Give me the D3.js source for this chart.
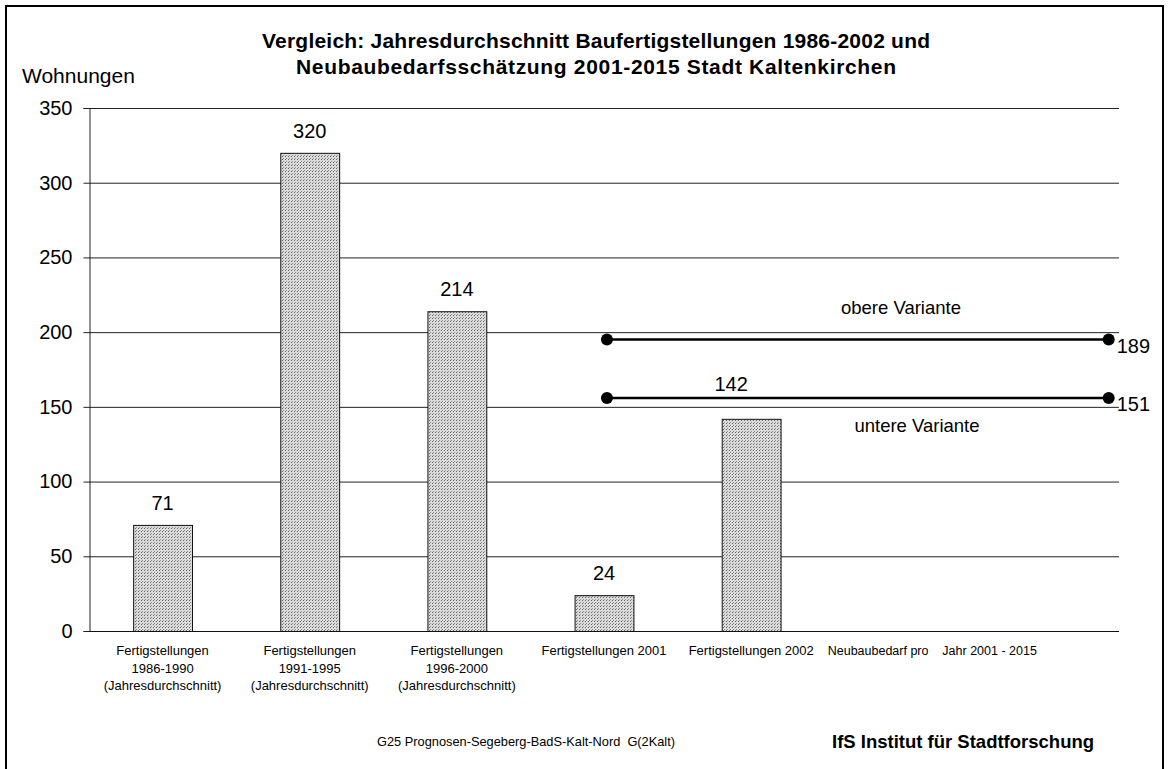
<!DOCTYPE html>
<html>
<head>
<meta charset="utf-8">
<script src="https://cdn.jsdelivr.net/npm/d3@7"></script>
<style>
  body { margin: 0; background: #fff; }
  svg { display: block; font-family: "Liberation Sans", Arial, sans-serif; }
</style>
</head>
<body>
<svg id="chart" width="1170" height="769"></svg>
<script>
// categories (7 slots: last two hold the Neubaubedarf label)
const categories = ["c1", "c2", "c3", "c4", "c5", "c6", "c7"];
const categoryLabels = [
  ["Fertigstellungen", "1986-1990", "(Jahresdurchschnitt)"],
  ["Fertigstellungen", "1991-1995", "(Jahresdurchschnitt)"],
  ["Fertigstellungen", "1996-2000", "(Jahresdurchschnitt)"],
  ["Fertigstellungen 2001"],
  ["Fertigstellungen 2002"]
];
const neubauLabel = "Neubaubedarf pro    Jahr 2001 - 2015";
const barValues = [71, 320, 214, 24, 142];

// Neubaubedarf variants: drawn level, printed value, caption
const varianteY = [195, 156];
const varianteValue = ["189", "151"];
const varianteName = ["obere Variante", "untere Variante"];
// x extent of the variant lines in category units (0..7)
const varianteX = [3.52, 6.93];

const yTicks = [0, 50, 100, 150, 200, 250, 300, 350];

const svg = d3.select("#chart");
const plotL = 89, plotR = 1119, plotT = 108, plotB = 631;

const x = d3.scaleBand().domain(categories).range([plotL, plotR])
  .paddingInner(0.6).paddingOuter(0.3);
const xLin = d3.scaleLinear().domain([0, 7]).range([plotL, plotR]);
const y = d3.scaleLinear().domain([0, 350]).range([plotB, plotT]);

// pattern for the bars
const defs = svg.append("defs");
const pat = defs.append("pattern").attr("id", "dots")
  .attr("width", 3).attr("height", 3).attr("patternUnits", "userSpaceOnUse");
pat.append("rect").attr("width", 3).attr("height", 3).attr("fill", "#dadada");
pat.append("rect").attr("width", 1).attr("height", 1).attr("fill", "#6a6a6a");
pat.append("rect").attr("x", 1).attr("y", 2).attr("width", 1).attr("height", 1).attr("fill", "#959595");

// frame
svg.append("rect").attr("x", 6).attr("y", 6).attr("width", 1157).attr("height", 780)
  .attr("fill", "none").attr("stroke", "#000").attr("stroke-width", 2);

// title
const title = svg.append("text").attr("text-anchor", "middle")
  .attr("font-weight", "bold").attr("font-size", 21);
title.append("tspan").attr("x", 596).attr("y", 48)
  .attr("textLength", 668).attr("lengthAdjust", "spacing")
  .text("Vergleich: Jahresdurchschnitt Baufertigstellungen 1986-2002 und");
title.append("tspan").attr("x", 596).attr("y", 74)
  .attr("textLength", 600).attr("lengthAdjust", "spacing")
  .text("Neubaubedarfsschätzung 2001-2015 Stadt Kaltenkirchen");

svg.append("text").attr("x", 22).attr("y", 83).attr("font-size", 21).text("Wohnungen");

// gridlines
svg.append("g").selectAll("line").data(yTicks.filter(d => d > 0)).join("line")
  .attr("x1", plotL).attr("x2", plotR)
  .attr("y1", d => y(d) + 0.5).attr("y2", d => y(d) + 0.5)
  .attr("stroke", "#222").attr("stroke-width", 1);

// y axis
const yAxis = svg.append("g").attr("transform", `translate(${plotL + 0.5},0)`)
  .call(d3.axisLeft(y).tickValues(yTicks).tickSize(6).tickPadding(11).tickFormat(d3.format("d")));
yAxis.select(".domain").attr("stroke", "#222");
yAxis.selectAll(".tick line").attr("stroke", "#222");
yAxis.selectAll(".tick text").attr("font-size", 20).attr("fill", "#000")
  .attr("font-family", "Liberation Sans, Arial, sans-serif");

// bars
svg.append("g").selectAll("rect").data(barValues).join("rect")
  .attr("x", (d, i) => x(categories[i]) + 0.5)
  .attr("y", d => y(d) + 0.5)
  .attr("width", x.bandwidth())
  .attr("height", d => y(0) - y(d))
  .attr("fill", "url(#dots)")
  .attr("stroke", "#111").attr("stroke-width", 1);

// bar value labels
svg.append("g").selectAll("text").data(barValues).join("text")
  .attr("x", (d, i) => x(categories[i]) + x.bandwidth() / 2 - (i === 4 ? 20 : 0))
  .attr("y", d => y(d) - (d === 142 ? 28 : 15))
  .attr("text-anchor", "middle").attr("font-size", 20)
  .text(d => d);

// x axis line
svg.append("line").attr("x1", plotL).attr("x2", plotR)
  .attr("y1", y(0) + 0.5).attr("y2", y(0) + 0.5)
  .attr("stroke", "#111").attr("stroke-width", 1.2);

// category labels
const catG = svg.append("g").attr("font-size", 13).attr("text-anchor", "middle");
categoryLabels.forEach((lines, i) => {
  const cx = x(categories[i]) + x.bandwidth() / 2;
  const t = catG.append("text");
  lines.forEach((ln, j) => {
    t.append("tspan").attr("x", cx).attr("y", 655 + j * 17.5).text(ln);
  });
});
catG.append("text").attr("x", x.step() * 5 + plotL + 3).attr("y", 655)
  .attr("text-anchor", "start").attr("font-size", 12.5).attr("xml:space", "preserve")
  .style("white-space", "pre").text(neubauLabel);

// variant lines
const vg = svg.append("g");
varianteY.forEach((v, i) => {
  const x1 = xLin(varianteX[0]), x2 = xLin(varianteX[1]), yy = y(v);
  vg.append("line").attr("x1", x1).attr("x2", x2).attr("y1", yy).attr("y2", yy)
    .attr("stroke", "#000").attr("stroke-width", 2.5);
  vg.selectAll(null).data([x1, x2]).join("circle")
    .attr("cx", d => d).attr("cy", yy).attr("r", 6).attr("fill", "#000");
  vg.append("text").attr("x", x2 + 8).attr("y", yy + 13)
    .attr("font-size", 20).text(varianteValue[i]);
});
vg.append("text").attr("x", 901).attr("y", y(varianteY[0]) - 26)
  .attr("text-anchor", "middle").attr("font-size", 18.5).text(varianteName[0]);
vg.append("text").attr("x", 917).attr("y", y(varianteY[1]) + 34)
  .attr("text-anchor", "middle").attr("font-size", 18.5).text(varianteName[1]);

// footer
svg.append("text").attr("x", 377).attr("y", 746).attr("font-size", 12.8)
  .attr("xml:space", "preserve").style("white-space", "pre")
  .text("G25 Prognosen-Segeberg-BadS-Kalt-Nord  G(2Kalt)");
svg.append("text").attr("x", 832).attr("y", 748).attr("font-size", 18.5)
  .attr("font-weight", "bold").text("IfS Institut für Stadtforschung");
</script>
</body>
</html>
